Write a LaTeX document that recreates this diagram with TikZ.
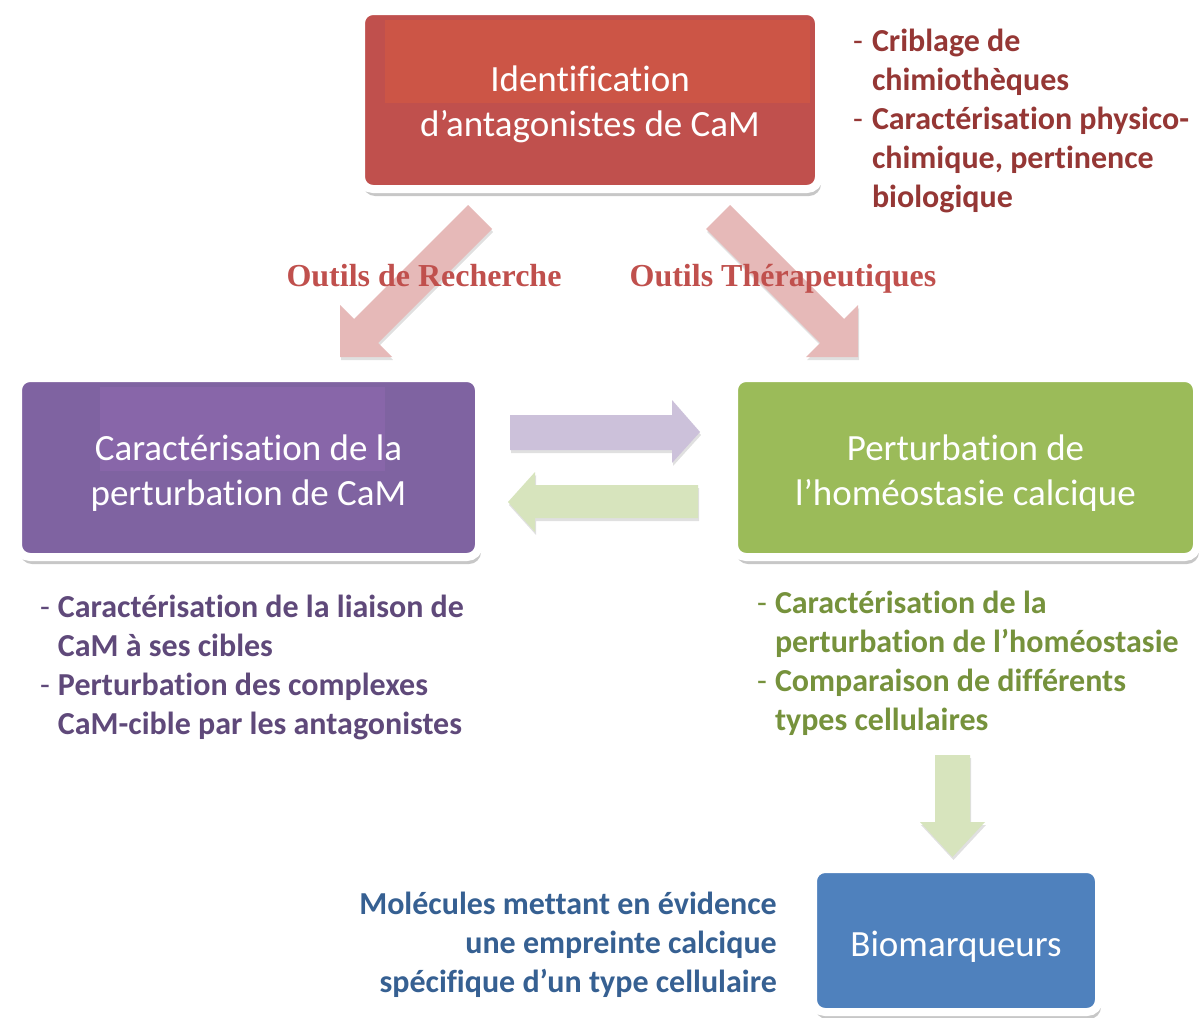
\documentclass[tikz,border=0pt]{standalone}
\usepackage{fontspec}
\setmainfont{Carlito}[Ligatures=NoCommon]
\newfontfamily\timesfont{Liberation Serif}
\usetikzlibrary{shadows}
\definecolor{boxred}{HTML}{C0504D}
\definecolor{boxredlight}{HTML}{CC5546}
\definecolor{boxpurple}{HTML}{7F63A1}
\definecolor{boxpurplelight}{HTML}{8866A9}
\definecolor{boxgreen}{HTML}{9BBB59}
\definecolor{boxblue}{HTML}{4F81BD}
\definecolor{arrred}{HTML}{E6B9B8}
\definecolor{arrpurple}{HTML}{CCC1DA}
\definecolor{arrgreen}{HTML}{D7E4BD}
\definecolor{txtred}{HTML}{953735}
\definecolor{txtpurple}{HTML}{5F497A}
\definecolor{txtgreen}{HTML}{76923C}
\definecolor{txtblue}{HTML}{366092}
\definecolor{lblred}{HTML}{C0504D}
\begin{document}
\begin{tikzpicture}[x=1pt,y=-1pt,
  cbox/.style={draw=white, line width=8pt, rounded corners=12pt, text=white,
    align=center, inner sep=0pt, font=\fontsize{37}{45}\selectfont,
    drop shadow={shadow xshift=2pt, shadow yshift=-7pt, opacity=0.22, fill=black}},
  blockarrow/.style={draw=none,
    drop shadow={shadow xshift=1pt, shadow yshift=-3pt, opacity=0.12, fill=black}},
  notes/.style={anchor=base west, font=\fontsize{32}{39}\selectfont\bfseries, inner sep=0pt},
  lbl/.style={anchor=base, text=lblred, font=\timesfont\bfseries\fontsize{32}{39}\selectfont, inner sep=0pt}]
\useasboundingbox[fill=white] (0,0) rectangle (1201,1017);

% boxes
\node[cbox, fill=boxred, minimum width=458pt, minimum height=178pt,
  path picture={\fill[boxredlight, sharp corners]
    ([xshift=24pt,yshift=-9pt]path picture bounding box.north west) rectangle
    ([xshift=-9pt,yshift=-3pt]path picture bounding box.east);}]
  (ident) at (590,100) {\rule{0pt}{35pt}Identification\\d’antagonistes de CaM};

\node[cbox, fill=boxpurple, minimum width=461pt, minimum height=179pt,
  path picture={\fill[boxpurplelight, sharp corners]
    ([xshift=82pt,yshift=-9pt]path picture bounding box.north west) rectangle
    ([xshift=367pt,yshift=-3pt]path picture bounding box.west);}]
  (carac) at (248.5,467.5) {\rule{0pt}{36pt}Caractérisation de la\\perturbation de CaM};

\node[cbox, fill=boxgreen, minimum width=463pt, minimum height=179pt]
  (pert) at (965.5,467.5) {\rule{0pt}{36pt}Perturbation de\\l’homéostasie calcique};

\node[cbox, fill=boxblue, minimum width=286pt, minimum height=143pt]
  (bio) at (956,940.5) {\rule{0pt}{38pt}Biomarqueurs};

% block arrows
\fill[arrred, blockarrow] (340,357) -- (340,305) -- (354,319) -- (468,205)
  -- (492,229) -- (378,343) -- (392,357) -- cycle;
\fill[arrred, blockarrow] (858,357) -- (858,305) -- (844,319) -- (730,205)
  -- (706,229) -- (820,343) -- (806,357) -- cycle;
\fill[arrpurple, blockarrow] (510,415) -- (672,415) -- (672,400) -- (700,432)
  -- (672,463) -- (672,450) -- (510,450) -- cycle;
\fill[arrgreen, blockarrow] (698,485) -- (535,485) -- (535,472) -- (508,502)
  -- (535,532) -- (535,518) -- (698,518) -- cycle;
\fill[arrgreen, blockarrow] (935,755) -- (970,755) -- (970,822) -- (985,822)
  -- (952.5,857) -- (920,822) -- (935,822) -- cycle;

% labels
\node[lbl] (lblrech) at (424,286) {Outils de Recherche};
\node[lbl] (lblther) at (783,286) {Outils Thérapeutiques};

% notes
\node[notes, text=txtred] (notecrib) at (853,51) {\begin{tabular}[t]{@{}l@{\hspace{9pt}}l@{}}
  \mdseries -&Criblage de\\
  &chimiothèques\\
  \mdseries -&Caractérisation physico-\\
  &chimique, pertinence\\
  &biologique\end{tabular}};

\node[notes, text=txtpurple] (notecarac) at (40,617) {\begin{tabular}[t]{@{}l@{\hspace{8pt}}l@{}}
  \mdseries -&Caractérisation de la liaison de\\
  &CaM à ses cibles\\
  \mdseries -&Perturbation des complexes\\
  &CaM-cible par les antagonistes\end{tabular}};

\node[notes, text=txtgreen] (notepert) at (757,613) {\begin{tabular}[t]{@{}l@{\hspace{8pt}}l@{}}
  \mdseries -&Caractérisation de la\\
  &perturbation de l’homéostasie\\
  \mdseries -&Comparaison de différents\\
  &types cellulaires\end{tabular}};

\node[notes, anchor=base east, text=txtblue] (notebio) at (777,914) {\begin{tabular}[t]{@{}r@{}}
  Molécules mettant en évidence\\
  une empreinte calcique\\
  spécifique d’un type cellulaire\end{tabular}};
\end{tikzpicture}
\end{document}
